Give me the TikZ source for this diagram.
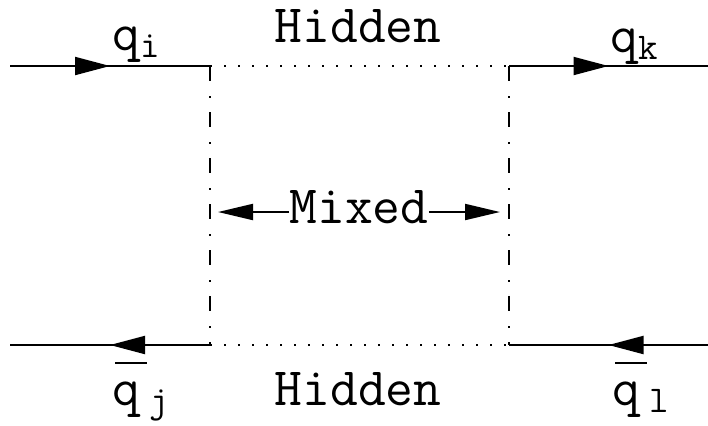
\documentclass[tikz,border=0pt]{standalone}
\usetikzlibrary{arrows.meta,decorations.markings,positioning}

\begin{document}
\begin{tikzpicture}[
    x=0.5pt, y=-0.5pt,
    font=\ttfamily\fontsize{27}{30}\selectfont,
    quark/.style={line width=1pt,postaction={decorate},
                  decoration={markings,mark=at position 0.5 with {\arrow{Triangle[length=17.5pt,width=9pt]}}}},
    hiddenline/.style={line width=1pt,dash pattern=on 1pt off 6pt},
    mixedline/.style={line width=1pt,dash pattern=on 7.5pt off 7.5pt on 1pt off 7pt},
    mixarrow/.style={line width=1pt,-{Triangle[length=17.5pt,width=8pt]}},
    lbl/.style={inner sep=0pt},
]
\useasboundingbox (0,0) rectangle (708,425);
% corners of the box
\coordinate (tl) at (210,66);
\coordinate (tr) at (509,66);
\coordinate (bl) at (210,345);
\coordinate (br) at (509,345);
% free ends of the quark lines
\coordinate (inI) at (10,66);
\coordinate (outK) at (708,66);
\coordinate (outJ) at (10,345);
\coordinate (inL) at (708,345);

\draw[quark] (inI) -- (tl);
\draw[quark] (tr) -- (outK);
\draw[quark] (bl) -- (outJ);
\draw[quark] (inL) -- (br);

\draw[hiddenline] (tl) -- (tr);
\draw[hiddenline] (bl) -- (br);
\draw[mixedline] (tl) -- (bl);
\draw[mixedline] (tr) -- (br);

\node[lbl,anchor=base west] (qi) at (112,50) {q\textsubscript{i}};
\node[lbl,anchor=base west] (qk) at (610,52) {q\textsubscript{k}};
\node[lbl,anchor=base west] (qj) at (112,405) {\rlap{\hspace*{1.5pt}\raisebox{20.5pt}{\rule{16pt}{1pt}}}q\,\textsubscript{j}};
\node[lbl,anchor=base west] (ql) at (612,405) {\rlap{\hspace*{1.5pt}\raisebox{20.5pt}{\rule{16pt}{1pt}}}q\,\textsubscript{l}};
\node[lbl,anchor=base] (hidtop) at (358,42) {Hidden};
\node[lbl,anchor=base] (hidbot) at (358,405) {Hidden};

% mixing arrows
\node[lbl,anchor=base] (mixed) at (359,223) {Mixed};
\coordinate (ml) at (218,212);
\coordinate (mr) at (500,212);
\draw[mixarrow] (ml -| mixed.west) -- (ml);
\draw[mixarrow] (mr -| mixed.east) -- (mr);
\end{tikzpicture}
\end{document}
